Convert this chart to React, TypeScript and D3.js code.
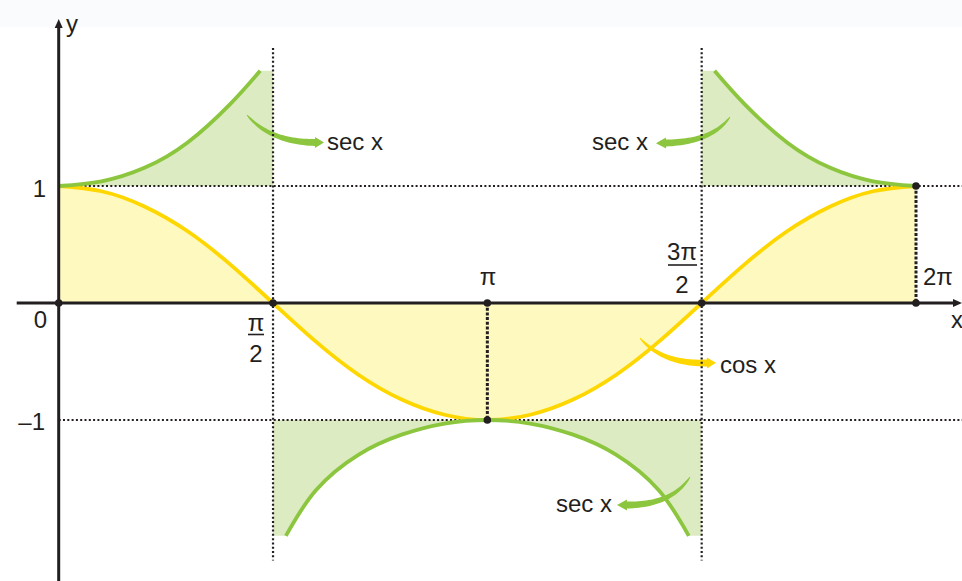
import React from "react";
import * as d3 from "d3";

// x values are in units of π, y values are function values
const cosX = [0, 0.1, 0.2, 0.3, 0.4, 0.5, 0.6, 0.7, 0.8, 0.9, 1,
  1.1, 1.2, 1.3, 1.4, 1.5, 1.6, 1.7, 1.8, 1.9, 2];
const cosY = [1, 0.955, 0.825, 0.615, 0.33, 0, -0.33, -0.615, -0.825, -0.955, -1,
  -0.955, -0.825, -0.615, -0.33, 0, 0.33, 0.615, 0.825, 0.955, 1];

const secLeftX = [0, 0.1, 0.2, 0.3, 0.4, 0.47];
const secLeftY = [1, 1.04, 1.155, 1.37, 1.7, 1.985];

const secRightX = [1.53, 1.6, 1.7, 1.8, 1.9, 2];
const secRightY = [1.985, 1.7, 1.37, 1.155, 1.04, 1];

const secLowX = [0.53, 0.6, 0.7, 0.8, 0.9, 1, 1.1, 1.2, 1.3, 1.4, 1.47];
const secLowY = [-1.99, -1.6, -1.295, -1.125, -1.03, -1, -1.03, -1.125, -1.295, -1.6, -1.99];

const markX = [0, 0.5, 1, 1, 1.5, 2, 2];
const markY = [0, 0, 0, -1, 0, 0, 1];

const W = 962;
const H = 581;

const x = d3.scaleLinear().domain([0, 2]).range([58.7, 916]);
const y = d3.scaleLinear().domain([-1, 1]).range([420, 186]);

const INK = "#231f20";
const YELLOW = "#ffd700";
const YELLOW_FILL = "#fef9bf";
const GREEN = "#8cc63f";
const GREEN_FILL = "#dcebc2";
const FONT = "'Liberation Sans', Arial, sans-serif";

type P = [number, number];

function zip(xs: number[], ys: number[]): P[] {
  return xs.map((v, i) => [v, ys[i]] as P);
}

const line = d3
  .line<P>()
  .x((d) => x(d[0]))
  .y((d) => y(d[1]))
  .curve(d3.curveNatural);

function taperArrow(p0: P, c: P, p2: P, maxW: number, headLen: number, headW: number) {
  const n = 30;
  const left: P[] = [];
  const right: P[] = [];
  for (let i = 0; i <= n; i++) {
    const t = i / n;
    const px = (1 - t) * (1 - t) * p0[0] + 2 * (1 - t) * t * c[0] + t * t * p2[0];
    const py = (1 - t) * (1 - t) * p0[1] + 2 * (1 - t) * t * c[1] + t * t * p2[1];
    const dx = 2 * (1 - t) * (c[0] - p0[0]) + 2 * t * (p2[0] - c[0]);
    const dy = 2 * (1 - t) * (c[1] - p0[1]) + 2 * t * (p2[1] - c[1]);
    const len = Math.hypot(dx, dy) || 1;
    const nx = -dy / len;
    const ny = dx / len;
    const w = (maxW * (0.1 + 0.9 * Math.pow(t, 0.6))) / 2;
    left.push([px + nx * w, py + ny * w]);
    right.push([px - nx * w, py - ny * w]);
  }
  const dx = p2[0] - c[0];
  const dy = p2[1] - c[1];
  const len = Math.hypot(dx, dy) || 1;
  const ux = dx / len;
  const uy = dy / len;
  const nx = -uy;
  const ny = ux;
  const tip: P = [p2[0] + ux * headLen, p2[1] + uy * headLen];
  const h1: P = [p2[0] + nx * headW / 2, p2[1] + ny * headW / 2];
  const h2: P = [p2[0] - nx * headW / 2, p2[1] - ny * headW / 2];
  const pts = [...left, h1, tip, h2, ...right.reverse()];
  return "M" + pts.map((p) => p[0].toFixed(2) + "," + p[1].toFixed(2)).join("L") + "Z";
}

export default function App() {
  const cosPts = zip(cosX, cosY);
  const secL = zip(secLeftX, secLeftY);
  const secR = zip(secRightX, secRightY);
  const secLo = zip(secLowX, secLowY);

  const cosLine = line(cosPts) || "";
  const cosFill = cosLine + `L${x(2)},${y(0)}L${x(0)},${y(0)}Z`;

  const secLLine = line(secL) || "";
  const secLFill =
    secLLine + `L${x(0.5)},${y(secLeftY[secLeftY.length - 1])}L${x(0.5)},${y(1)}Z`;

  const secRLine = line(secR) || "";
  const secRFill =
    `M${x(1.5)},${y(1)}L${x(1.5)},${y(secRightY[0])}L` + secRLine.slice(1) + `L${x(2)},${y(1)}Z`;

  const secLoLine = line(secLo) || "";
  const secLoFill =
    `M${x(0.5)},${y(-1)}L${x(0.5)},${y(secLowY[0])}L` +
    secLoLine.slice(1) +
    `L${x(1.5)},${y(secLowY[secLowY.length - 1])}L${x(1.5)},${y(-1)}Z`;

  const thinDot = { stroke: INK, strokeWidth: 2.2, strokeDasharray: "2 2.3" };
  const boldDot = { stroke: INK, strokeWidth: 3, strokeDasharray: "3 1.7" };

  const txt = { fontFamily: FONT, fontSize: 24, fill: INK } as const;

  return (
    <svg
      width={W}
      height={H}
      style={{ position: "absolute", left: 0, top: 0, background: "#fff" }}
    >
      <rect x={0} y={0} width={W} height={H} fill="#ffffff" />
      <rect x={0} y={0} width={W} height={27} fill="#fafbfd" />

      {/* fills */}
      <path d={cosFill} fill={YELLOW_FILL} />
      <path d={secLFill} fill={GREEN_FILL} />
      <path d={secRFill} fill={GREEN_FILL} />
      <path d={secLoFill} fill={GREEN_FILL} />

      {/* label arrows */}
      <path d={taperArrow([247, 115], [270, 142], [315, 142.5], 7, 9, 11)} fill={GREEN} />
      <path d={taperArrow([730, 117], [712, 142], [666, 143], 7, 10, 11)} fill={GREEN} />
      <path d={taperArrow([640, 338], [662, 364], [707, 363], 7, 9, 11)} fill={YELLOW} />
      <path d={taperArrow([690, 477], [672, 505], [627, 505], 7, 10, 11)} fill={GREEN} />

      {/* dotted guides */}
      <line x1={x(0)} x2={W} y1={y(1)} y2={y(1)} {...thinDot} />
      <line x1={x(0)} x2={W} y1={y(-1)} y2={y(-1)} {...thinDot} />
      <line x1={x(0.5)} x2={x(0.5)} y1={y(2.18)} y2={y(-2.2)} {...thinDot} />
      <line x1={x(1.5)} x2={x(1.5)} y1={y(2.18)} y2={y(-2.2)} {...thinDot} />
      <line x1={x(1)} x2={x(1)} y1={y(0)} y2={y(-1)} {...boldDot} />
      <line x1={x(2)} x2={x(2)} y1={y(1)} y2={y(0)} {...boldDot} />

      {/* curves */}
      <path d={cosLine} fill="none" stroke={YELLOW} strokeWidth={3.8} />
      <path d={secLLine} fill="none" stroke={GREEN} strokeWidth={3.8} />
      <path d={secRLine} fill="none" stroke={GREEN} strokeWidth={3.8} />
      <path d={secLoLine} fill="none" stroke={GREEN} strokeWidth={3.8} />

      {/* axes */}
      <line x1={16.7} x2={956} y1={y(0)} y2={y(0)} stroke={INK} strokeWidth={3} />
      <path d={`M${W},${y(0)}L${W - 9},${y(0) - 4}L${W - 9},${y(0) + 4}Z`} fill={INK} />
      <line x1={x(0)} x2={x(0)} y1={H} y2={26} stroke={INK} strokeWidth={3} />
      <path d={`M${x(0)},19L${x(0) - 4},28L${x(0) + 4},28Z`} fill={INK} />

      {/* points */}
      {markX.map((v, i) => (
        <circle key={i} cx={x(v)} cy={y(markY[i])} r={3.8} fill={INK} />
      ))}

      {/* axis labels */}
      <text x={66} y={32} {...txt}>y</text>
      <text x={951} y={328} {...txt}>x</text>
      <text x={46} y={197} textAnchor="end" {...txt}>1</text>
      <text x={47} y={328} textAnchor="end" {...txt}>0</text>
      <text x={45} y={430} textAnchor="end" {...txt}>–1</text>

      <text x={256} y={331} textAnchor="middle" {...txt}>π</text>
      <line x1={248} x2={264} y1={334.5} y2={334.5} stroke={INK} strokeWidth={1.6} />
      <text x={256} y={362} textAnchor="middle" {...txt}>2</text>

      <text x={488} y={285} textAnchor="middle" {...txt}>π</text>

      <text x={682} y={260} textAnchor="middle" {...txt}>3π</text>
      <line x1={668} x2={697} y1={265} y2={265} stroke={INK} strokeWidth={1.6} />
      <text x={682} y={293} textAnchor="middle" {...txt}>2</text>

      <text x={923} y={285} {...txt}>2π</text>

      {/* annotation labels */}
      <text x={327} y={150} {...txt}>sec x</text>
      <text x={648} y={150} textAnchor="end" {...txt}>sec x</text>
      <text x={720} y={373} {...txt}>cos x</text>
      <text x={612} y={512} textAnchor="end" {...txt}>sec x</text>
    </svg>
  );
}
